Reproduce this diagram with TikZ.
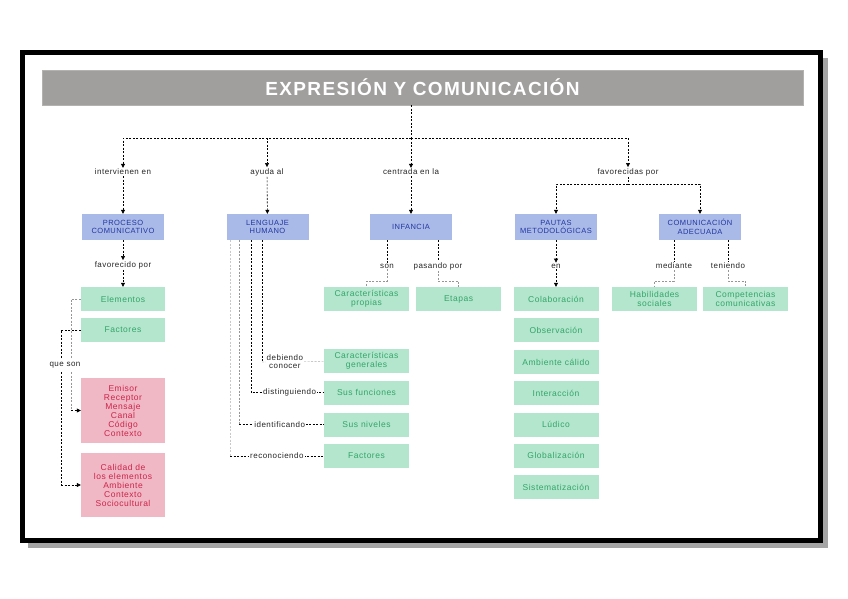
\documentclass[tikz,border=0pt]{standalone}
\usepackage{fontspec}
\setmainfont{Liberation Sans}
\newfontfamily\mapfont[LetterSpace=6]{Liberation Sans}
\newfontfamily\titlefont[LetterSpace=7]{Liberation Sans}
\usetikzlibrary{arrows.meta,positioning}
\usepackage{xcolor}
\definecolor{titlegray}{RGB}{161,158,158}
\definecolor{shadowgray}{RGB}{165,165,165}
\definecolor{boxblue}{RGB}{170,186,232}
\definecolor{inkblue}{RGB}{35,55,160}
\definecolor{boxgreen}{RGB}{180,230,205}
\definecolor{inkgreen}{RGB}{50,165,105}
\definecolor{boxpink}{RGB}{240,184,196}
\definecolor{inkred}{RGB}{205,35,75}
\definecolor{linegray}{RGB}{150,150,150}
\definecolor{lightline}{RGB}{200,200,200}
\tikzset{
  mapbox/.style={minimum width=85pt,minimum height=24pt,inner sep=1pt,align=center,
    fill=boxgreen,text=inkgreen,font=\mapfont\fontsize{8.5}{9}\selectfont},
  topbox/.style={mapbox,minimum width=82pt,minimum height=26pt,fill=boxblue,text=inkblue,
    font=\mapfont\fontsize{7.5}{8.5}\selectfont},
  listbox/.style={mapbox,minimum width=84pt,fill=boxpink,text=inkred,
    font=\mapfont\fontsize{8.5}{9}\selectfont},
  linklabel/.style={inner sep=1pt,align=center,text=black!85,font=\mapfont\fontsize{8}{8}\selectfont},
  dline/.style={dash pattern=on 2pt off 1.5pt,line width=0.6pt},
  flow/.style={dline,-{Triangle[length=4pt,width=4pt]}},
  faint/.style={dline,draw=linegray},
  fainter/.style={dline,draw=lightline}
}
\begin{document}
\begin{tikzpicture}[x=1pt,y=-1pt]
  \useasboundingbox (0,0) rectangle (848,599);
  % frame
  \fill[shadowgray] (28,58) rectangle (828,548);
  \draw[line width=5pt,fill=white] (22.5,52.5) rectangle (820.5,540.5);
  \node[fill=titlegray,draw=titlegray!80,minimum width=761pt,minimum height=35pt,inner sep=0pt,
    text=white,font=\titlefont\bfseries\fontsize{19}{19}\selectfont]
    (title) at (422.5,87.5) {EXPRESIÓN Y COMUNICACIÓN\hspace{21pt}};
  % first level
  \node[linklabel] (lint) at (123,172) {intervienen en};
  \node[linklabel] (layu) at (267,172) {ayuda al};
  \node[linklabel] (lcen) at (411,172) {centrada en la};
  \node[linklabel] (lfav) at (628,172) {favorecidas por};
  \node[topbox] (proc) at (123,227) {PROCESO\\COMUNICATIVO};
  \node[topbox] (leng) at (267.5,227) {LENGUAJE\\HUMANO};
  \node[topbox] (inf) at (411,227) {INFANCIA};
  \node[topbox] (paut) at (556,227) {PAUTAS\\METODOLÓGICAS};
  \node[topbox] (comu) at (700,227) {COMUNICACIÓN\\ADECUADA};
  \coordinate (hub) at (411,138);
  \coordinate (fhub) at (628,184);
  \draw[dline] (title.south -| hub) -- (hub);
  \draw[flow] (hub) -| (lint); \draw[flow] (hub) -| (layu);
  \draw[flow] (hub) -- (lcen); \draw[flow] (hub) -| (lfav);
  \draw[flow] (lint) -- (proc); \draw[flow] (layu) -- (leng); \draw[flow] (lcen) -- (inf);
  \draw[dline] (lfav) -- (fhub);
  \draw[flow] (fhub) -| (paut); \draw[flow] (fhub) -| (comu);
  % proceso comunicativo
  \node[linklabel] (lfp) at (123,265) {favorecido por};
  \node[mapbox,minimum width=84pt] (elem) at (123,299) {Elementos};
  \node[mapbox,minimum width=84pt] (fact) at (123,330) {Factores};
  \node[linklabel] (lque) at (65,365) {que son};
  \node[listbox,minimum height=65pt] (emis) at (123,410.5) {Emisor\\Receptor\\Mensaje\\Canal\\Código\\Contexto};
  \node[listbox,minimum height=64pt] (cali) at (123,485) {Calidad de\\los elementos\\Ambiente\\Contexto\\Sociocultural};
  \draw[flow] (proc) -- (lfp); \draw[flow] (lfp) -- (elem);
  \coordinate (qe1) at (71,358); \coordinate (qe2) at (71,372);
  \coordinate (qf1) at (61,358); \coordinate (qf2) at (61,372);
  \draw[faint] (elem.west) -| (qe1);
  \draw[dline] (fact.west) -| (qf1);
  \draw[faint] (qe2) -- (qe2 |- emis.west); \draw[flow] (qe2 |- emis.west) -- (emis.west);
  \draw[dline] (qf2) -- (qf2 |- cali.west); \draw[flow] (qf2 |- cali.west) -- (cali.west);
  % lenguaje humano
  \node[mapbox] (cgen) at (366.5,361) {Características\\generales};
  \node[mapbox] (sfun) at (366.5,392.5) {Sus funciones};
  \node[mapbox] (sniv) at (366.5,424.5) {Sus niveles};
  \node[mapbox] (lfac) at (366.5,456) {Factores};
  \coordinate (kdeb) at (262,362); \coordinate (kdis) at (251,392.5);
  \coordinate (kide) at (239,424.5); \coordinate (krec) at (230,456);
  \draw[dline] (leng.south -| kdeb) -- (kdeb);
  \draw[fainter] (kdeb) -- node[linklabel,fill=white,pos=0.37] {debiendo\\conocer} (cgen);
  \draw[dline] (leng.south -| kdis) -- (kdis) -- node[linklabel,fill=white,pos=0.53] {distinguiendo} (sfun);
  \draw[faint] (leng.south -| kide) -- (kide);
  \draw[dline] (kide) -- node[linklabel,fill=white,pos=0.48] {identificando} (sniv);
  \draw[fainter] (leng.south -| krec) -- (krec);
  \draw[dline] (krec) -- node[linklabel,fill=white,pos=0.5] {reconociendo} (lfac);
  % infancia
  \node[linklabel] (lson) at (387,266) {son};
  \node[linklabel] (lpas) at (438,266) {pasando por};
  \node[mapbox] (cprop) at (366.5,299) {Características\\propias};
  \node[mapbox] (etap) at (458.5,299) {Etapas};
  \coordinate (kson) at (387,281); \coordinate (kpas) at (438,281);
  \draw[dline] (inf.south -| lson) -- (lson); \draw[faint] (lson) -- (kson) -| (cprop);
  \draw[dline] (inf.south -| lpas) -- (lpas); \draw[faint] (lpas) -- (kpas) -| (etap);
  % pautas metodologicas
  \node[linklabel] (len) at (556,266) {en};
  \node[mapbox] (cola) at (556,299) {Colaboración};
  \node[mapbox] (obse) at (556,330) {Observación};
  \node[mapbox] (ambi) at (556,362) {Ambiente cálido};
  \node[mapbox] (inte) at (556,393) {Interacción};
  \node[mapbox] (ludi) at (556,424.5) {Lúdico};
  \node[mapbox] (glob) at (556,455.5) {Globalización};
  \node[mapbox] (sist) at (556,487) {Sistematización};
  \draw[flow] (paut) -- (len); \draw[flow] (len) -- (cola);
  % comunicacion adecuada
  \node[linklabel] (lmed) at (674,266) {mediante};
  \node[linklabel] (lten) at (728,266) {teniendo};
  \node[mapbox] (habi) at (654.5,299) {Habilidades\\sociales};
  \node[mapbox] (comp) at (745.5,299) {Competencias\\comunicativas};
  \coordinate (kmed) at (674,281); \coordinate (kten) at (728,281);
  \draw[dline] (comu.south -| lmed) -- (lmed); \draw[faint] (lmed) -- (kmed) -| (habi);
  \draw[dline] (comu.south -| lten) -- (lten); \draw[faint] (lten) -- (kten) -| (comp);
\end{tikzpicture}
\end{document}
